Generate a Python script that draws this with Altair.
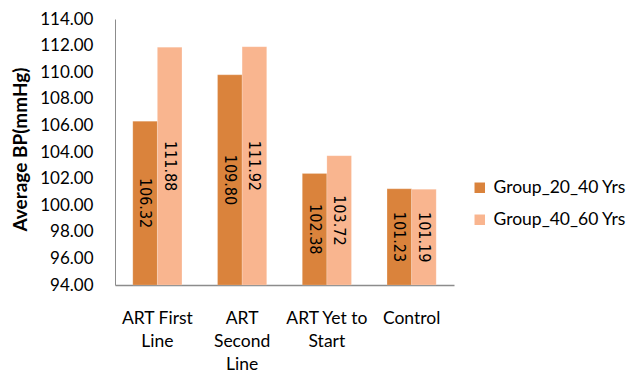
import altair as alt
import pandas as pd

# Mean blood pressure by ART status and age group
categories = ["ART First Line", "ART Second Line", "ART Yet to Start", "Control"]
groups = ["Group_20_40 Yrs", "Group_40_60 Yrs"]
group_20_40 = [106.32, 109.80, 102.38, 101.23]
group_40_60 = [111.88, 111.92, 103.72, 101.19]
y_ticks = [94, 96, 98, 100, 102, 104, 106, 108, 110, 112, 114]

rows = []
for cat, a, b in zip(categories, group_20_40, group_40_60):
    rows.append({"category": cat, "group": groups[0], "value": a})
    rows.append({"category": cat, "group": groups[1], "value": b})
df = pd.DataFrame(rows)

colors = ["#DA833C", "#F9B58F"]
base_font = "Lato"

x_axis = alt.Axis(
    labelAngle=0,
    labelFont=base_font,
    labelFontSize=17.5,
    labelColor="#000000",
    labelBaseline="top",
    labelPadding=24,
    labelLineHeight=23,
    labelOverlap=False,
    labelExpr=(
        "datum.label == 'ART First Line' ? ['ART First', 'Line'] : "
        "datum.label == 'ART Second Line' ? ['ART', 'Second', 'Line'] : "
        "datum.label == 'ART Yet to Start' ? ['ART Yet to', 'Start'] : datum.label"
    ),
    ticks=False,
    domainColor="#8C8C8C",
    domainWidth=1.5,
)

y_axis = alt.Axis(
    values=y_ticks,
    format=".2f",
    grid=False,
    ticks=False,
    labelOverlap=False,
    labelFont=base_font,
    labelFontSize=17,
    labelColor="#000000",
    labelPadding=22,
    domainColor="#8C8C8C",
    domainWidth=1,
    titleFont=base_font,
    titleFontSize=19,
    titleFontWeight="bold",
    titleColor="#000000",
    titleAngle=-90,
    titleAlign="center",
    titleBaseline="middle",
    titleX=-95,
    titleY=130,
)

x_scale = alt.Scale(paddingInner=0.42, paddingOuter=0.21)
y_scale = alt.Scale(domain=[94, 114], nice=False, zero=False)
x_enc = alt.X("category:N", sort=categories, title=None, scale=x_scale, axis=x_axis)
offset_enc = alt.XOffset("group:N", sort=groups, scale=alt.Scale(paddingInner=0, paddingOuter=0))

bars = alt.Chart(df).mark_bar(stroke="#FFFFFF", strokeOpacity=0.35, strokeWidth=0.5).encode(
    x=x_enc,
    xOffset=offset_enc,
    y=alt.Y("value:Q", scale=y_scale, title="Average BP(mmHg)", axis=y_axis),
    y2=alt.datum(94),
    color=alt.Color(
        "group:N",
        sort=groups,
        scale=alt.Scale(domain=groups, range=colors),
        legend=alt.Legend(
            title=None,
            orient="none",
            legendX=356,
            legendY=160,
            symbolType="square",
            symbolSize=110,
            symbolStrokeWidth=0,
            labelFont=base_font,
            labelFontSize=17.5,
            labelColor="#000000",
            rowPadding=13,
            labelOffset=5,
        ),
    ),
)

labels = alt.Chart(df).transform_calculate(
    mid="(datum.value + 94) / 2",
    txt="format(datum.value, '.2f')",
).mark_text(
    angle=90,
    font="DejaVu Sans Condensed, DejaVu Sans",
    fontSize=16,
    color="#000000",
    align="center",
    baseline="middle",
).encode(
    x=x_enc,
    xOffset=offset_enc,
    y=alt.Y("mid:Q", scale=y_scale, title="Average BP(mmHg)", axis=y_axis),
    text="txt:N",
)

chart = (
    alt.layer(bars, labels)
    .properties(
        width=339,
        height=266,
        autosize=alt.AutoSizeParams(type="none"),
        padding={"left": 115, "top": 19, "right": 176, "bottom": 90},
        background="#FFFFFF",
    )
    .configure_view(stroke=None)
)

chart.save("out.html", embed_options={"renderer": "svg", "actions": False})
